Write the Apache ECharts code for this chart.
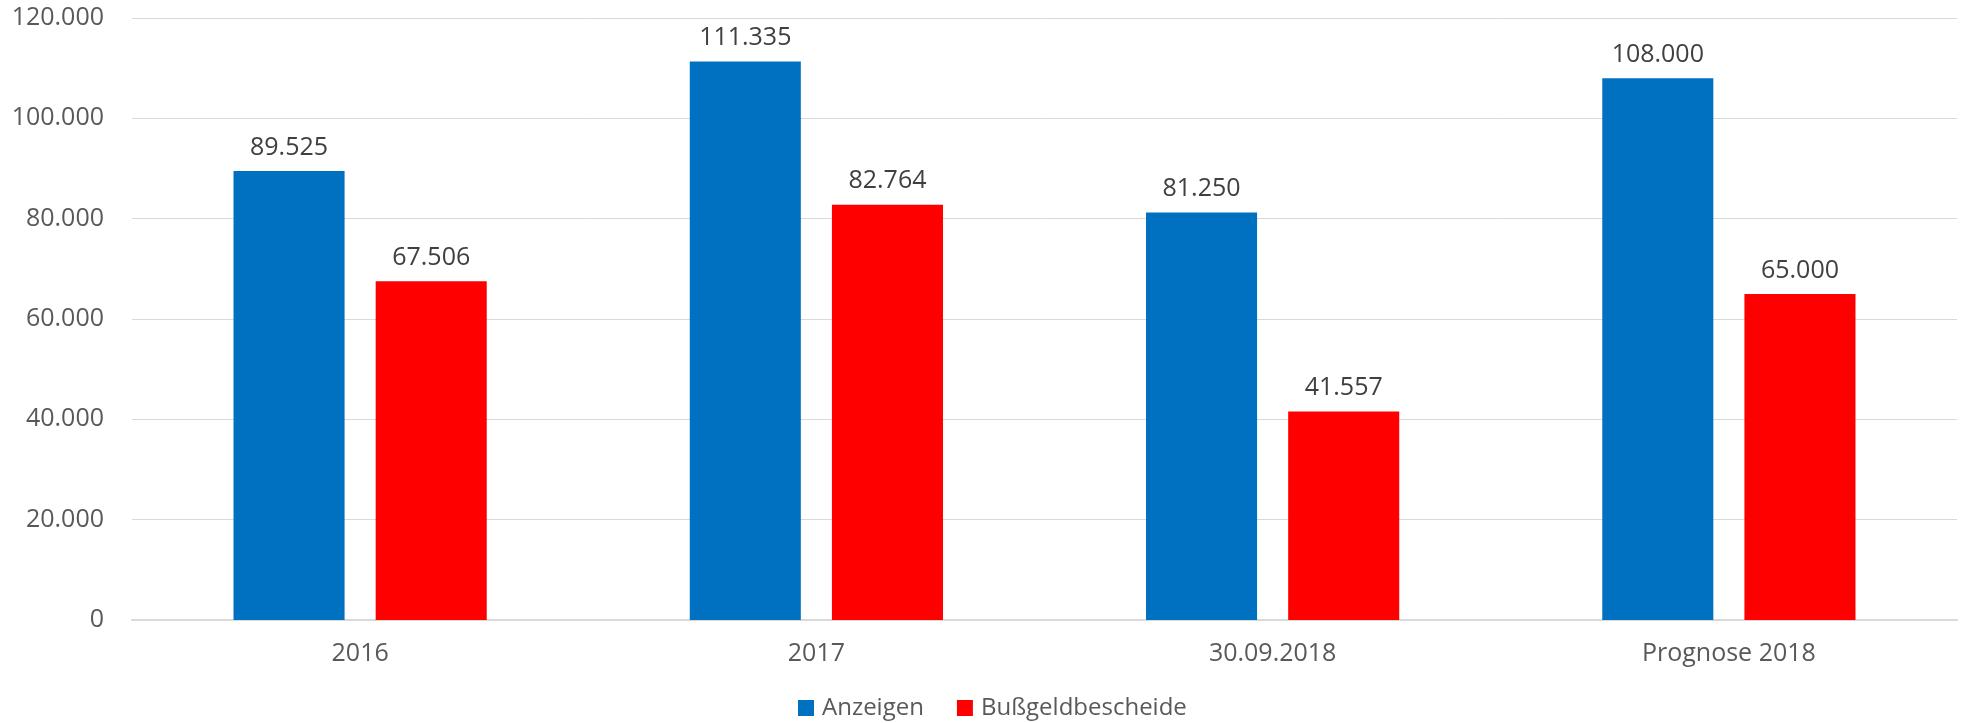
<!DOCTYPE html>
<html>
<head>
<meta charset="utf-8">
<script src="https://cdn.jsdelivr.net/npm/echarts@6/dist/echarts.min.js"></script>
<style>
html,body{margin:0;padding:0;background:#fff;}
#chart{width:1961px;height:723px;}
</style>
</head>
<body>
<div id="chart"></div>
<script>
const categories = ['2016', '2017', '30.09.2018', 'Prognose 2018'];
const anzeigen = [89525, 111335, 81250, 108000];
const bussgeld = [67506, 82764, 41557, 65000];
const seriesNames = ['Anzeigen', 'Bußgeldbescheide'];

function fmt(v) {
  const s = String(Math.round(v));
  return s.replace(/\B(?=(\d{3})+(?!\d))/g, '.');
}

const FONT = 'Open Sans';
const FS = 25;
const chart = echarts.init(document.getElementById('chart'), null, {renderer: 'canvas'});
chart.setOption({
  animation: false,
  backgroundColor: '#ffffff',
  grid: {left: 132, right: 4, top: 18, bottom: 103, containLabel: false},
  legend: {
    left: 793, top: 691,
    itemWidth: 16, itemHeight: 16, itemGap: 33,
    icon: 'rect',
    textStyle: {fontFamily: FONT, fontSize: 24, color: '#595959', padding: [0, 0, 0, 3]},
    data: seriesNames
  },
  xAxis: {
    type: 'category',
    data: categories,
    axisLine: {lineStyle: {color: '#D9D9D9', width: 2}},
    axisTick: {show: false},
    axisLabel: {fontFamily: FONT, fontSize: FS, color: '#595959', margin: 21}
  },
  yAxis: {
    type: 'value',
    min: 0, max: 120000, interval: 20000,
    axisLine: {show: false},
    axisTick: {show: false},
    splitLine: {lineStyle: {color: '#D9D9D9', width: 1}},
    axisLabel: {fontFamily: FONT, fontSize: FS, color: '#595959', margin: 28, formatter: fmt}
  },
  series: [
    {
      name: seriesNames[0], type: 'bar', data: anzeigen,
      itemStyle: {color: '#0070C0'},
      barGap: '28%', barCategoryGap: '44.5%',
      label: {show: true, position: 'top', distance: 11, fontFamily: FONT, fontSize: FS, color: '#404040',
        formatter: p => fmt(p.value)}
    },
    {
      name: seriesNames[1], type: 'bar', data: bussgeld,
      itemStyle: {color: '#FF0000'},
      barGap: '28%', barCategoryGap: '44.5%',
      label: {show: true, position: 'top', distance: 11, fontFamily: FONT, fontSize: FS, color: '#404040',
        formatter: p => fmt(p.value)}
    }
  ]
});
</script>
</body>
</html>
